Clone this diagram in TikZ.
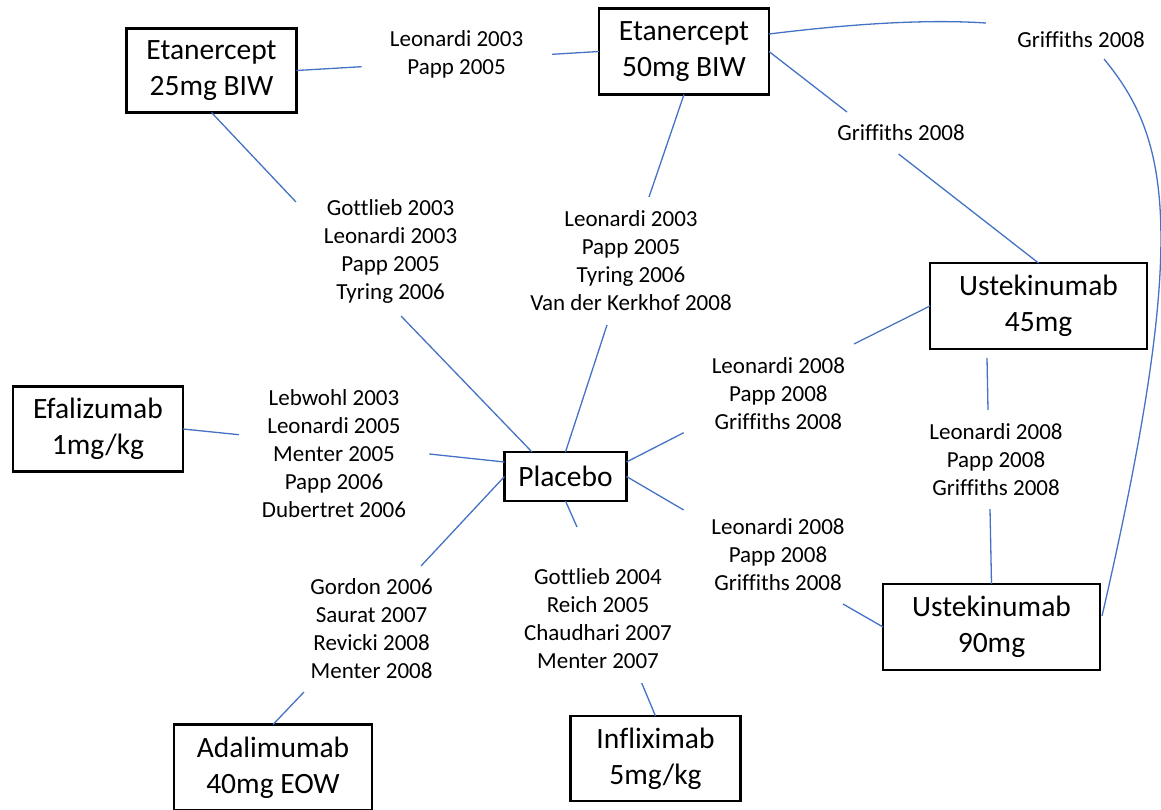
\documentclass[tikz,border=0pt]{standalone}
\usepackage{fontspec}
\setmainfont{Carlito}[Ligatures={NoCommon,NoRequired,NoContextual},Contextuals=NoAlternate]
\usetikzlibrary{calc}
\definecolor{edgeblue}{RGB}{68,114,196}
\begin{document}
\begin{tikzpicture}[x=1pt,y=-1pt,
  drug/.style={draw=black, line width=2.8pt, fill=white, inner sep=0pt, outer sep=0pt,
    align=center, font=\fontsize{29.5}{36}\selectfont},
  study/.style={inner sep=0pt, align=center, font=\fontsize{23}{28}\selectfont},
  link/.style={draw=edgeblue, line width=1.3pt}]
\useasboundingbox (0,0) rectangle (1161,809);
% drug boxes
\node[drug, minimum width=170pt, minimum height=84pt] (e25) at (211.5,70.5) {Etanercept\\25mg BIW};
\node[drug, minimum width=170pt, minimum height=86pt] (e50) at (684,51.5) {Etanercept\\50mg BIW};
\node[drug, minimum width=217pt, minimum height=86pt] (u45) at (1038.5,306) {Ustekinumab\\45mg};
\node[drug, minimum width=217pt, minimum height=86pt] (u90) at (991.5,627) {Ustekinumab\\90mg};
\node[drug, minimum width=122pt, minimum height=49pt] (pl) at (565.5,476.5) {Placebo};
\node[drug, minimum width=170pt, minimum height=85pt] (efal) at (98,429) {Efalizumab\\1mg/kg};
\node[drug, minimum width=198pt, minimum height=86pt] (adal) at (273,767.5) {Adalimumab\\40mg EOW};
\node[drug, minimum width=170pt, minimum height=85pt] (infl) at (655.5,758.5) {Infliximab\\5mg/kg};
% study labels
\node[study] (l1) at (456.6,54) {Leonardi 2003\\Papp 2005};
\node[study] (l2) at (390.6,251) {Gottlieb 2003\\Leonardi 2003\\Papp 2005\\Tyring 2006};
\node[study] (l3) at (631,261) {Leonardi 2003\\Papp 2005\\Tyring 2006\\Van der Kerkhof 2008};
\node[study] (l4) at (901,133) {Griffiths 2008};
\node[study] (l5) at (1081,39.6) {Griffiths 2008};
\node[study] (l6) at (334,454) {Lebwohl 2003\\Leonardi 2005\\Menter 2005\\Papp 2006\\Dubertret 2006};
\node[study] (l7) at (371.6,629) {Gordon 2006\\Saurat 2007\\Revicki 2008\\Menter 2008};
\node[study] (l8) at (598,619) {Gottlieb 2004\\Reich 2005\\Chaudhari 2007\\Menter 2007};
\node[study] (l9) at (778.4,394) {Leonardi 2008\\Papp 2008\\Griffiths 2008};
\node[study] (l10) at (778,555) {Leonardi 2008\\Papp 2008\\Griffiths 2008};
\node[study] (l11) at (996,460) {Leonardi 2008\\Papp 2008\\Griffiths 2008};
% free ends of connectors next to labels
\coordinate (c1) at (361.6,66.7);
\coordinate (c2) at (552,54.3);
\coordinate (c3) at (296,202);
\coordinate (c4) at (401,316);
\coordinate (c5) at (649,197);
\coordinate (c6) at (607,325);
\coordinate (c7) at (847,112);
\coordinate (c8) at (898.6,154);
\coordinate (c9) at (986,23);
\coordinate (c10) at (1104,59);
\coordinate (c11) at (239,434.7);
\coordinate (c12) at (429.4,454);
\coordinate (c13) at (421,566);
\coordinate (c14) at (304,692);
\coordinate (c15) at (577,527);
\coordinate (c16) at (641.7,683);
\coordinate (c17) at (683.7,432.7);
\coordinate (c18) at (854,344);
\coordinate (c19) at (683.7,510);
\coordinate (c20) at (843,604);
\coordinate (c21) at (988,410);
\coordinate (c22) at (990,509);
% connectors
\draw[link] (e25.east) -- (c1);
\draw[link] (c2) -- (e50.west);
\draw[link] (e25.south) -- (c3);
\draw[link] (c4) -- ($(pl.north)+(-33.5,0)$);
\draw[link] (e50.south) -- (c5);
\draw[link] (c6) -- (pl.north);
\draw[link] (e50.east) -- (c7);
\draw[link] (c8) -- (u45.north);
\draw[link] ($(e50.east)+(0,-17.5)$) .. controls (850,24) and (925,19) .. (c9);
\draw[link] (c10) .. controls (1170,139) and (1190,234) .. ($(u90.east)+(2,-11)$);
\draw[link] (efal.east) -- (c11);
\draw[link] (c12) -- ($(pl.west)+(0,-14.5)$);
\draw[link] (pl.west) -- (c13);
\draw[link] (c14) -- (adal.north);
\draw[link] (pl.south) -- (c15);
\draw[link] (c16) -- (infl.north);
\draw[link] ($(pl.east)+(0,-14.5)$) -- (c17);
\draw[link] (c18) -- (u45.west);
\draw[link] (pl.east) -- (c19);
\draw[link] (c20) -- (u90.west);
\draw[link] ($(u45.south)+(-51.5,9)$) -- (c21);
\draw[link] (c22) -- (u90.north);
\end{tikzpicture}
\end{document}
